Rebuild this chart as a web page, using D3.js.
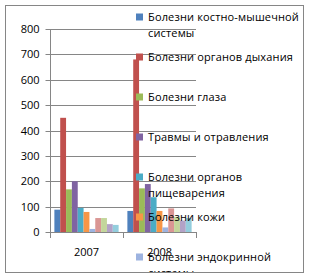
<!DOCTYPE html>
<html><head><meta charset="utf-8">
<script src="https://cdn.jsdelivr.net/npm/d3@7"></script>
<style>body{margin:0;background:#fff}svg{display:block}</style>
</head><body>
<svg id="c" width="310" height="279"></svg>
<script>
const categories = ["2007", "2008"];
const seriesNames = [
  "Болезни костно-мышечной системы",
  "Болезни органов дыхания",
  "Болезни глаза",
  "Травмы и отравления",
  "Болезни органов пищеварения",
  "Болезни кожи",
  "Болезни эндокринной системы",
  "Болезни нервной системы",
  "Болезни уха",
  "Болезни мочеполовой системы",
  "Прочие"
];
const values2007 = [88, 450, 168, 200, 95, 79, 12, 55, 55, 31, 28];
const values2008 = [83, 680, 172, 189, 137, 83, 18, 93, 60, 45, 55];
const colors = ["#4F81BD", "#C0504D", "#9BBB59", "#8064A2", "#4BACC6", "#F79646",
                "#9DB3E0", "#DA9694", "#C3D69B", "#B3A2C7", "#93CDDD"];
const yTicks = [0, 100, 200, 300, 400, 500, 600, 700, 800];
const legendLines = [
  ["Болезни костно-мышечной", "системы"],
  ["Болезни органов дыхания"],
  ["Болезни глаза"],
  ["Травмы и отравления"],
  ["Болезни органов", "пищеварения"],
  ["Болезни кожи"],
  ["Болезни эндокринной", "системы"]
];

const svg = d3.select("#c");
const font = "'Open Sans', sans-serif";
const grid = "#868686";

svg.append("defs").append("clipPath").attr("id","frame")
  .append("rect").attr("x",5).attr("y",5).attr("width",299).attr("height",268);
const root = svg.append("g").attr("clip-path","url(#frame)");

const x0 = d3.scaleBand().domain(categories).range([50, 196]);
const y = d3.scaleLinear().domain([0, 800]).range([232, 29]);
const n = seriesNames.length;
const barW = x0.bandwidth() / (n + 1.5);

// gridlines
root.append("g").selectAll("line").data(yTicks.filter(d=>d>0)).join("line")
  .attr("x1", 50).attr("x2", 196)
  .attr("y1", d=>Math.round(y(d))+0.5).attr("y2", d=>Math.round(y(d))+0.5)
  .attr("stroke", grid).attr("stroke-width", 1);

// y axis
const yAxis = d3.axisLeft(y).tickValues(yTicks).tickSize(5).tickPadding(6);
const ya = root.append("g").attr("transform","translate(50.5,0)").call(yAxis);
ya.select(".domain").attr("stroke", grid).attr("d","M0,29V232");
ya.selectAll(".tick line").attr("stroke", grid);
ya.selectAll(".tick").attr("transform", d=>`translate(0,${Math.round(y(d))+0.5})`);
ya.selectAll("text").attr("font-family", font).attr("font-size", 11).attr("fill","#000");

// bars
const data = [values2007, values2008];
categories.forEach((c, ci) => {
  const g = root.append("g");
  g.selectAll("rect").data(data[ci]).join("rect")
    .attr("x", (d,i) => x0(c) + barW*0.75 + i*barW)
    .attr("width", barW)
    .attr("y", d => y(d))
    .attr("height", d => y(0) - y(d))
    .attr("fill", (d,i) => colors[i]);
});

// x axis
const xAxis = d3.axisBottom(x0).tickSize(0).tickPadding(16);
const xa = root.append("g").attr("transform","translate(0,232.5)").call(xAxis);
xa.select(".domain").attr("stroke", grid).attr("d","M50,0H196");
xa.selectAll("text").attr("font-family", font).attr("font-size", 11).attr("fill","#000");
const tickPos = [50, 123, 196];
root.append("g").selectAll("line").data(tickPos).join("line")
  .attr("x1", d=>d+0.5).attr("x2", d=>d+0.5).attr("y1", 232).attr("y2", 238)
  .attr("stroke", grid);

// legend
const lg = root.append("g");
legendLines.forEach((lines, i) => {
  const cy = 17 + i*40;
  lg.append("rect").attr("x", 136).attr("y", cy-3.5).attr("width", 7).attr("height", 7)
    .attr("fill", colors[i]);
  lines.forEach((t, k) => {
    lg.append("text").attr("x", 148).attr("y", cy + 4 + k*16)
      .attr("font-family", font).attr("font-size", 11).attr("letter-spacing", 0.15)
      .attr("fill", "#000").text(t);
  });
});

// frame
svg.append("rect").attr("x",5.5).attr("y",5.5).attr("width",298).attr("height",267)
  .attr("fill","none").attr("stroke", grid);
</script>
</body></html>
